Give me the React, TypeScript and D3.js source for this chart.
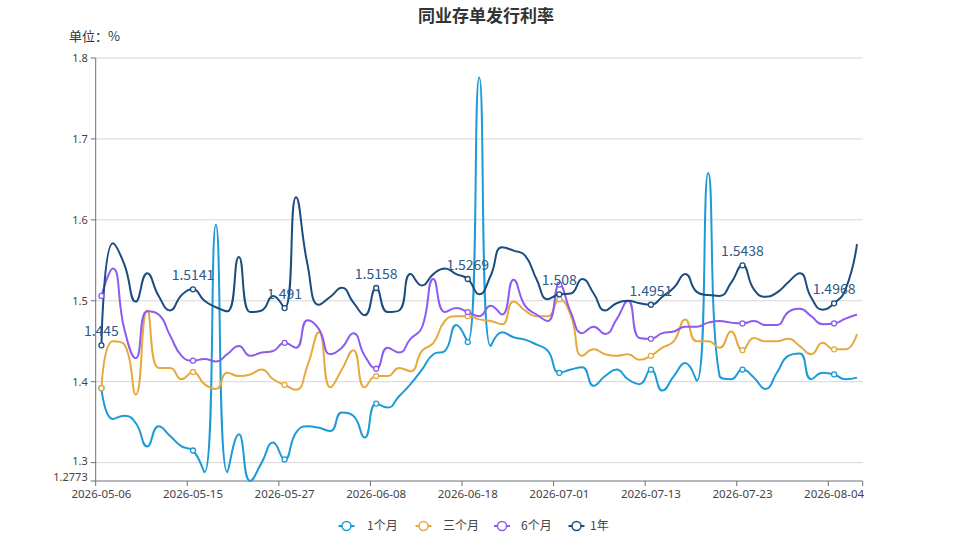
import React from 'react';
import * as d3 from 'd3';

const dates = [
  '2026-05-06','2026-05-07','2026-05-08','2026-05-09','2026-05-11','2026-05-12','2026-05-13','2026-05-14',
  '2026-05-15','2026-05-18','2026-05-19','2026-05-20','2026-05-21','2026-05-22','2026-05-25','2026-05-26',
  '2026-05-27','2026-05-28','2026-05-29','2026-06-01','2026-06-02','2026-06-03','2026-06-04','2026-06-05',
  '2026-06-08','2026-06-09','2026-06-10','2026-06-11','2026-06-12','2026-06-15','2026-06-16','2026-06-17',
  '2026-06-18','2026-06-22','2026-06-23','2026-06-24','2026-06-25','2026-06-26','2026-06-29','2026-06-30',
  '2026-07-01','2026-07-02','2026-07-03','2026-07-06','2026-07-07','2026-07-08','2026-07-09','2026-07-10',
  '2026-07-13','2026-07-14','2026-07-15','2026-07-16','2026-07-17','2026-07-20','2026-07-21','2026-07-22',
  '2026-07-23','2026-07-24','2026-07-27','2026-07-28','2026-07-29','2026-07-30','2026-07-31','2026-08-03',
  '2026-08-04','2026-08-05','2026-08-06'
];

const rate1M = [
  1.392, 1.354, 1.358, 1.349, 1.320, 1.345, 1.333, 1.320, 1.315, 1.288,
  1.594, 1.288, 1.335, 1.2773, 1.300, 1.325, 1.304, 1.337, 1.345, 1.343,
  1.339, 1.362, 1.358, 1.331, 1.373, 1.368, 1.382, 1.397, 1.415, 1.434,
  1.438, 1.470, 1.449, 1.776, 1.444, 1.461, 1.455, 1.452, 1.446, 1.438,
  1.411, 1.415, 1.418, 1.395, 1.407, 1.415, 1.403, 1.397, 1.415, 1.389,
  1.407, 1.423, 1.401, 1.658, 1.407, 1.403, 1.415, 1.405, 1.391, 1.411,
  1.432, 1.435, 1.403, 1.411, 1.409, 1.403, 1.405
];

const rate3M = [
  1.392, 1.450, 1.446, 1.384, 1.488, 1.417, 1.417, 1.403, 1.412, 1.397,
  1.391, 1.411, 1.407, 1.409, 1.415, 1.403, 1.396, 1.390, 1.420, 1.461,
  1.393, 1.415, 1.439, 1.393, 1.407, 1.407, 1.417, 1.413, 1.438, 1.448,
  1.475, 1.481, 1.481, 1.477, 1.475, 1.471, 1.499, 1.488, 1.481, 1.481,
  1.502, 1.482, 1.432, 1.440, 1.434, 1.432, 1.434, 1.427, 1.432, 1.442,
  1.450, 1.477, 1.450, 1.450, 1.442, 1.462, 1.439, 1.454, 1.450, 1.450,
  1.453, 1.444, 1.434, 1.448, 1.440, 1.440, 1.459
];

const rate6M = [
  1.506, 1.540, 1.465, 1.429, 1.487, 1.483, 1.457, 1.432, 1.426, 1.428,
  1.425, 1.434, 1.444, 1.432, 1.436, 1.438, 1.448, 1.442, 1.476, 1.465,
  1.434, 1.442, 1.460, 1.432, 1.416, 1.442, 1.436, 1.453, 1.467, 1.527,
  1.486, 1.491, 1.486, 1.481, 1.494, 1.483, 1.526, 1.494, 1.483, 1.475,
  1.520, 1.486, 1.460, 1.468, 1.459, 1.477, 1.500, 1.454, 1.453, 1.460,
  1.462, 1.468, 1.468, 1.473, 1.475, 1.473, 1.472, 1.475, 1.470, 1.470,
  1.486, 1.490, 1.481, 1.471, 1.472, 1.478, 1.483
];

const rate1Y = [
  1.445, 1.571, 1.545, 1.499, 1.534, 1.506, 1.488, 1.507, 1.5141, 1.500,
  1.492, 1.487, 1.554, 1.486, 1.488, 1.506, 1.491, 1.628, 1.545, 1.495,
  1.505, 1.516, 1.498, 1.482, 1.5158, 1.486, 1.488, 1.533, 1.519, 1.533,
  1.540, 1.533, 1.5269, 1.508, 1.531, 1.566, 1.562, 1.556, 1.527, 1.502,
  1.508, 1.509, 1.527, 1.509, 1.488, 1.497, 1.500, 1.497, 1.4951, 1.505,
  1.516, 1.533, 1.511, 1.507, 1.506, 1.522, 1.5438, 1.514, 1.505, 1.510,
  1.523, 1.534, 1.504, 1.489, 1.4968, 1.514, 1.570
];

const seriesNames = ['1个月', '三个月', '6个月', '1年'];
const seriesColors = ['#1e9ad6', '#e8a93c', '#8c5cf0', '#1b4c7e'];
const seriesData = [rate1M, rate3M, rate6M, rate1Y];

const yTicks = [1.3, 1.4, 1.5, 1.6, 1.7, 1.8];
const yMin = 1.2773;
const yMax = 1.8;
const labelStep = 8;

const W = 959;
const H = 540;
const FONT = '"Microsoft YaHei", "Noto Sans CJK SC", "Noto Sans", sans-serif';
const NUM_FONT = '"Noto Sans", "Noto Sans CJK SC", sans-serif';

// ECharts-like smooth bezier (smooth = 0.5, with extreme constraints)
function smoothPath(pts: [number, number][], smooth = 0.5): string {
  let d = '';
  let cpx0 = 0, cpy0 = 0, prevX = 0, prevY = 0;
  const n = pts.length;
  for (let i = 0; i < n; i++) {
    const [x, y] = pts[i];
    if (i === 0) {
      d += `M${x},${y}`;
      cpx0 = x; cpy0 = y;
    } else {
      let cpx1 = x, cpy1 = y, nCpx0 = x, nCpy0 = y;
      if (i < n - 1) {
        const [nx, ny] = pts[i + 1];
        let vx = nx - prevX, vy = ny - prevY;
        const lenPrev = Math.hypot(x - prevX, y - prevY);
        const lenNext = Math.hypot(nx - x, ny - y);
        const ratio = lenNext / (lenNext + lenPrev);
        nCpx0 = x + vx * smooth * ratio;
        nCpy0 = y + vy * smooth * ratio;
        nCpx0 = Math.min(nCpx0, Math.max(nx, x));
        nCpy0 = Math.min(nCpy0, Math.max(ny, y));
        nCpx0 = Math.max(nCpx0, Math.min(nx, x));
        nCpy0 = Math.max(nCpy0, Math.min(ny, y));
        vx = nCpx0 - x; vy = nCpy0 - y;
        cpx1 = x - vx * lenPrev / lenNext;
        cpy1 = y - vy * lenPrev / lenNext;
        cpx1 = Math.min(cpx1, Math.max(prevX, x));
        cpy1 = Math.min(cpy1, Math.max(prevY, y));
        cpx1 = Math.max(cpx1, Math.min(prevX, x));
        cpy1 = Math.max(cpy1, Math.min(prevY, y));
        vx = x - cpx1; vy = y - cpy1;
        nCpx0 = x + vx * lenNext / lenPrev;
        nCpy0 = y + vy * lenNext / lenPrev;
      }
      d += `C${cpx0},${cpy0},${cpx1},${cpy1},${x},${y}`;
      cpx0 = nCpx0; cpy0 = nCpy0;
    }
    prevX = x; prevY = y;
  }
  return d;
}

export default function App() {
  const left = 95.7, right = 862.7, top = 58, bottom = 481;
  const x = d3.scaleBand<string>().domain(dates).range([left, right]).paddingInner(0).paddingOuter(0);
  const bw = x.bandwidth();
  const cx = (d: string) => (x(d) as number) + bw / 2;
  const y = d3.scaleLinear().domain([yMin, yMax]).range([bottom, top]);

  const markIdx = dates.map((_, i) => i).filter((i) => i % labelStep === 0);
  const yLabelTicks = [yMin, ...yTicks];

  const legendIcon = [346.5, 423.5, 502, 576.5];
  const legendText = [367, 443, 521, 590];
  const legendY = 526;

  return (
    <svg width={W} height={H} style={{ position: 'absolute', left: 0, top: 0, background: '#fff' }} fontFamily={FONT}>
      <text x={486} y={22} textAnchor="middle" fontSize={17} fontWeight="bold" fill="#333">同业存单发行利率</text>
      <text x={69} y={41} fontSize={13} fill="#333">单位：%</text>

      {/* grid lines */}
      {yTicks.map((t) => (
        <line key={'g' + t} x1={left} x2={right} y1={y(t)} y2={y(t)} stroke="#d6d6d6" strokeWidth={1} />
      ))}

      {/* y axis */}
      <line x1={left} x2={left} y1={top} y2={bottom} stroke="#6e7079" strokeWidth={1} />
      {yLabelTicks.map((t, k) => (
        <g key={'yt' + t}>
          <line x1={left - 5} x2={left} y1={y(t)} y2={y(t)} stroke="#6e7079" />
          <text
            x={left - 8}
            y={y(t) + (k === 0 ? -3.5 : k === 1 ? -1.5 : 0)}
            dy="0.35em"
            textAnchor="end"
            fontSize={11}
            fontFamily={NUM_FONT}
            fill="#444"
          >
            {String(t)}
          </text>
        </g>
      ))}

      {/* x axis */}
      <line x1={left} x2={right} y1={bottom} y2={bottom} stroke="#6e7079" strokeWidth={1} />
      {markIdx.map((i) => (
        <line key={'xt' + i} x1={x(dates[i]) as number} x2={x(dates[i]) as number} y1={bottom} y2={bottom + 5} stroke="#6e7079" />
      ))}
      <line x1={right} x2={right} y1={bottom} y2={bottom + 5} stroke="#6e7079" />
      {markIdx.map((i) => (
        <text key={'xl' + i} x={cx(dates[i])} y={bottom + 17} textAnchor="middle" fontSize={11.5} fontFamily={NUM_FONT} fill="#444">{dates[i]}</text>
      ))}

      {/* series lines */}
      {seriesData.map((s, si) => (
        <path
          key={'s' + si}
          d={smoothPath(s.map((v, i) => [cx(dates[i]), y(v)] as [number, number]))}
          fill="none"
          stroke={seriesColors[si]}
          strokeWidth={2}
          strokeLinejoin="round"
        />
      ))}

      {/* symbols */}
      {seriesData.map((s, si) =>
        markIdx.map((i) => (
          <circle key={'c' + si + '-' + i} cx={cx(dates[i])} cy={y(s[i])} r={2.5} fill="#fff" stroke={seriesColors[si]} strokeWidth={1.3} />
        ))
      )}

      {/* labels for 1年 */}
      {markIdx.map((i) => (
        <text key={'lb' + i} x={cx(dates[i])} y={y(rate1Y[i]) - 9} textAnchor="middle" fontSize={14} fill="#2c5a88">{String(rate1Y[i])}</text>
      ))}

      {/* legend */}
      {seriesNames.map((name, si) => (
        <g key={'lg' + si}>
          <line x1={legendIcon[si] - 8} x2={legendIcon[si] + 8} y1={legendY} y2={legendY} stroke={seriesColors[si]} strokeWidth={2} />
          <circle cx={legendIcon[si]} cy={legendY} r={4.5} fill="#fff" stroke={seriesColors[si]} strokeWidth={1.5} />
          <text x={legendText[si]} y={legendY} dy="0.35em" fontSize={12} fill="#444">{name}</text>
        </g>
      ))}
    </svg>
  );
}
